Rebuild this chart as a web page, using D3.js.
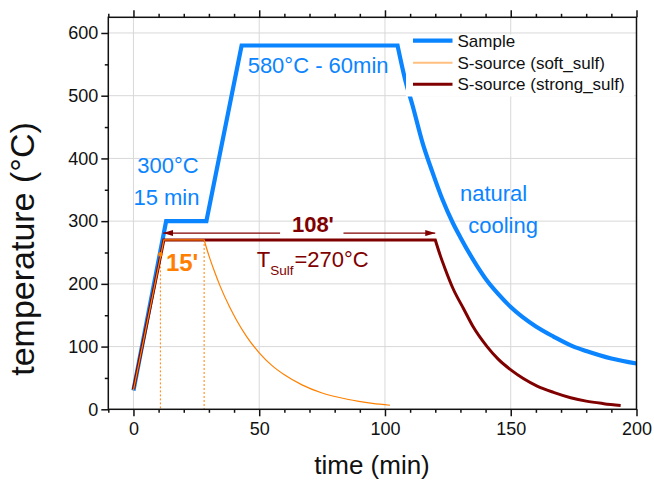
<!DOCTYPE html>
<html><head><meta charset="utf-8">
<script src="https://cdn.jsdelivr.net/npm/d3@7"></script>
<style>
body{margin:0;background:#fff}
svg{display:block}
text{font-family:"Liberation Sans",Arial,Helvetica,sans-serif}
</style>
</head><body><svg id="chart" width="654" height="484"></svg>
<script>
// ---------- data ----------
const seriesNames = ["Sample", "S-source (soft_sulf)", "S-source (strong_sulf)"];
const sampleTime = [0, 13, 29, 43, 105, 108, 111, 115, 118.7, 122.7, 127, 130, 136.7, 140.6, 145, 150, 160, 167, 175, 180, 190, 200];
const sampleTemp = [30, 300, 300, 580, 580, 526, 484, 424, 380, 336, 297, 274, 228, 205, 184, 163, 132, 116, 100, 93, 81, 73];
const softTime = [0, 12.1, 28.1, 30, 32, 34.5, 38, 41, 45, 50, 55, 60, 67, 75, 85, 95, 102];
const softTemp = [30, 270, 270, 245, 222, 196, 165, 142, 116, 90, 70, 55, 39, 26, 16, 9.5, 6.5];
const strongTime = [0, 12.1, 120, 122, 124, 127, 131.3, 135, 140.6, 145, 150.3, 155, 160.5, 167, 173.8, 180, 187, 193.7];
const strongTemp = [32, 270, 270, 245, 223, 193, 160, 132, 100, 80, 62, 49, 37, 27, 18.5, 13, 9, 6];
const xTicks = [0, 50, 100, 150, 200];
const yTicks = [0, 100, 200, 300, 400, 500, 600];
const xMinorTicks = [-10, 10, 20, 30, 40, 60, 70, 80, 90, 110, 120, 130, 140, 160, 170, 180, 190];
const yMinorTicks = [50, 150, 250, 350, 450, 550];
// annotations
const sulfWindow = [10.7, 28.1];      // start / end of the 15' soft sulfurisation
const sulfWindowTemp = [247, 270];
const strongWindow = [11.8, 120];      // 108' arrow
const strongArrowTemp = 281;

// ---------- setup ----------
const svg = d3.select("#chart");
const L = 108.3, R = 636.5, T = 17.3, B = 409.3;
const x = d3.scaleLinear().domain([-10, 200]).range([L, R]);
const y = d3.scaleLinear().domain([0, 625]).range([B, T]);

const blue = "#0a84ff", orange = "#ff8000", dred = "#800000";
const font = '"Liberation Sans",Arial,sans-serif';

// grid
const g = svg.append("g");
g.selectAll(".gx").data(xTicks.filter(d => d < 200)).join("line")
  .attr("x1", d => x(d)).attr("x2", d => x(d)).attr("y1", T).attr("y2", B)
  .attr("stroke", "#d8d8d8").attr("stroke-width", 1);
g.selectAll(".gy").data(yTicks.filter(d => d > 0)).join("line")
  .attr("x1", L).attr("x2", R).attr("y1", d => y(d)).attr("y2", d => y(d))
  .attr("stroke", "#d8d8d8").attr("stroke-width", 1);

// series
function mk(ts, vs) { return ts.map((t, i) => [t, vs[i]]); }
const series = [
  {name: seriesNames[0], pts: mk(sampleTime, sampleTemp), color: blue, w: 4.2},
  {name: seriesNames[1], pts: mk(softTime, softTemp), color: orange, w: 1.2},
  {name: seriesNames[2], pts: mk(strongTime, strongTemp), color: dred, w: 3}
];
const lineLin = d3.line().x(d => x(d[0])).y(d => y(d[1]));
const lineMono = d3.line().x(d => x(d[0])).y(d => y(d[1])).curve(d3.curveMonotoneX);
function pathFor(pts) {
  const mx = d3.max(pts, d => d[1]);
  let split = 0;
  pts.forEach((d, i) => { if (d[1] === mx) split = i; });
  const a = lineLin(pts.slice(0, split + 1));
  const b = lineMono(pts.slice(split));
  return a + "L" + b.slice(1);
}
// dotted guides for 15'
svg.selectAll(".guide").data(sulfWindow).join("line")
  .attr("x1", d => x(d)).attr("x2", d => x(d))
  .attr("y1", (d, i) => y(sulfWindowTemp[i])).attr("y2", B)
  .attr("stroke", orange).attr("stroke-width", 1).attr("stroke-dasharray", "2,2");

// draw order: blue, dark red, orange on top
[series[0], series[2], series[1]].forEach(s => {
  svg.append("path").attr("d", pathFor(s.pts)).attr("fill", "none")
    .attr("stroke", s.color).attr("stroke-width", s.w).attr("stroke-linejoin", "miter");
});
svg.append("circle").attr("cx", x(sulfWindow[0])).attr("cy", y(sulfWindowTemp[0]))
  .attr("r", 2.3).attr("fill", orange);

// 108' arrow
const ay = y(strongArrowTemp);
svg.append("defs").html(
  `<marker id="ah" viewBox="0 0 10 6" refX="10" refY="3" markerWidth="10" markerHeight="6" markerUnits="userSpaceOnUse" orient="auto-start-reverse"><path d="M0,0L10,3L0,6Z" fill="${dred}"/></marker>`);
svg.append("line").attr("x1", x(strongWindow[0])).attr("x2", x(58.3)).attr("y1", ay).attr("y2", ay)
  .attr("stroke", dred).attr("stroke-width", 1.3).attr("marker-start", "url(#ah)");
svg.append("line").attr("x1", x(83.5)).attr("x2", x(strongWindow[1])).attr("y1", ay).attr("y2", ay)
  .attr("stroke", dred).attr("stroke-width", 1.3).attr("marker-end", "url(#ah)");

// texts
function txt(tx, ty, s, size, color, weight, anchor) {
  return svg.append("text").attr("x", x(tx)).attr("y", y(ty)).text(s)
    .attr("font-size", size).attr("fill", color).attr("font-weight", weight || "normal")
    .attr("text-anchor", anchor || "start");
}
txt(45.4, 535.5, "580°C - 60min", 22, blue);
txt(1.5, 377, "300°C", 22, blue);
txt(0, 325.5, "15 min", 22, blue);
txt(129.8, 332.5, "natural", 22, blue);
txt(133.1, 280.5, "cooling", 22, blue);
txt(63, 282, "108'", 22, dred, "bold");
txt(12.9, 221, "15'", 24, orange, "bold");
const ts = svg.append("text").attr("x", x(49.0)).attr("y", y(227)).attr("font-size", 22).attr("fill", dred);
ts.append("tspan").text("T");
ts.append("tspan").text("Sulf").attr("font-size", 13.5).attr("dy", 8);
ts.append("tspan").text("=270°C").attr("dy", -8).attr("dx", 1);

// legend
const lg = svg.append("g");
lg.append("rect").attr("x", 406).attr("y", 34.5).attr("width", 228).attr("height", 62).attr("fill", "#fff");
const rows = [40.7, 62.7, 84.3];
[series[0], series[1], series[2]].forEach((s, i) => {
  lg.append("line").attr("x1", 413).attr("x2", 452.5).attr("y1", rows[i]).attr("y2", rows[i])
    .attr("stroke", i === 1 ? "#ffbf7f" : s.color).attr("stroke-width", i === 1 ? 2 : s.w);
  lg.append("text").attr("x", 457.5).attr("y", rows[i]).attr("dy", "0.35em")
    .attr("font-size", 17).attr("fill", "#111").text(s.name);
});

// axes
function styleAxis(sel) {
  sel.select(".domain").remove();
  sel.selectAll(".tick line").attr("stroke", "#111").attr("stroke-width", 1.5);
  sel.selectAll("text").attr("font-size", 18).attr("fill", "#111").attr("font-family", font);
}
svg.append("g").attr("transform", `translate(0,${B})`)
  .call(d3.axisBottom(x).tickValues(xTicks).tickSize(7).tickPadding(6).tickFormat(d3.format("d"))).call(styleAxis);
svg.append("g").attr("transform", `translate(0,${B})`)
  .call(d3.axisBottom(x).tickValues(xMinorTicks).tickSize(3.5).tickFormat("")).call(styleAxis);
svg.append("g").attr("transform", `translate(0,${T})`)
  .call(d3.axisTop(x).tickValues(xTicks).tickSize(7).tickFormat("")).call(styleAxis);
svg.append("g").attr("transform", `translate(0,${T})`)
  .call(d3.axisTop(x).tickValues(xMinorTicks).tickSize(3.5).tickFormat("")).call(styleAxis);
svg.append("g").attr("transform", `translate(${L},0)`)
  .call(d3.axisLeft(y).tickValues(yTicks).tickSize(7).tickPadding(3).tickFormat(d3.format("d"))).call(styleAxis);
svg.append("g").attr("transform", `translate(${L},0)`)
  .call(d3.axisLeft(y).tickValues(yMinorTicks).tickSize(3.5).tickFormat("")).call(styleAxis);

// frame
svg.append("rect").attr("x", L).attr("y", T).attr("width", R - L).attr("height", B - T)
  .attr("fill", "none").attr("stroke", "#111").attr("stroke-width", 1.5);

// axis titles
svg.append("text").attr("x", 372).attr("y", 474).attr("text-anchor", "middle")
  .attr("font-size", 26).attr("fill", "#111").text("time (min)");
svg.append("text").attr("transform", `translate(34,249) rotate(-90)`).attr("text-anchor", "middle")
  .attr("font-size", 34).attr("fill", "#111").text("temperature (°C)");
</script></body></html>
